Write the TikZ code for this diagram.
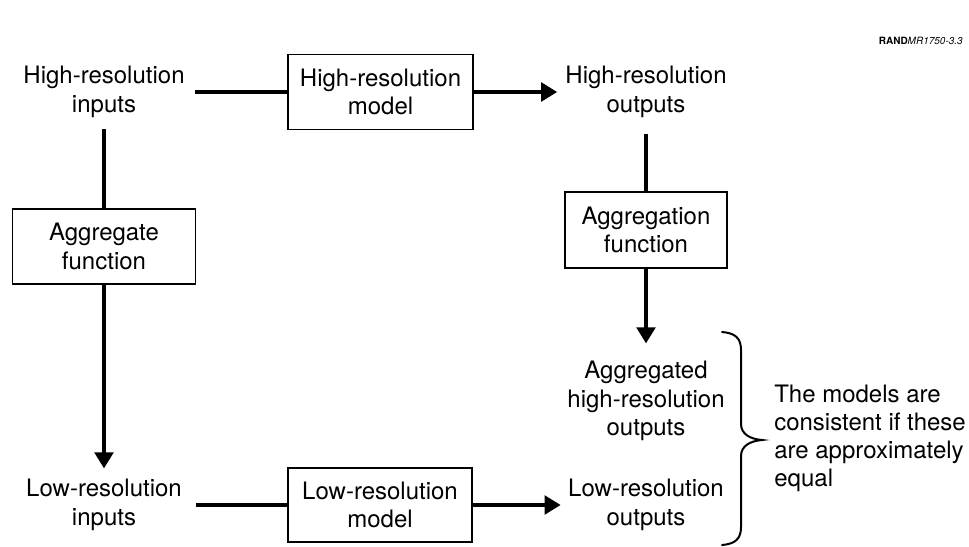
\documentclass[tikz,border=0pt]{standalone}
\usepackage{fontspec}
\setmainfont{TeX Gyre Heros}
\usetikzlibrary{arrows.meta}
\begin{document}
\begin{tikzpicture}[x=0.75pt,y=-0.75pt,
  lbl/.style={font=\fontsize{18pt}{21.5pt}\selectfont, align=center, inner sep=0pt},
  blk/.style={lbl, draw, line width=1.2pt},
  conn/.style={line width=2.5pt},
  arr/.style={conn, -{Triangle[length=12pt,width=14pt]}},
  bracket/.style={line width=1.5pt, line cap=round}]
\useasboundingbox (0,0) rectangle (969,546);

% series label
\node[anchor=east, inner sep=0pt, font=\fontsize{7.5pt}{9pt}\selectfont] (tag) at (963,41)
  {{\bfseries RAND}{\itshape MR1750-3.3}};

% top row: high resolution
\node[lbl] (hin) at (104,92) {High-resolution\\inputs};
\node[blk, minimum width=138.75pt, minimum height=56.25pt] (hmod) at (380.5,92) {High-resolution\\model};
\node[lbl] (hout) at (646,92) {High-resolution\\outputs};

% aggregation steps
\node[blk, minimum width=137.25pt, minimum height=56.25pt] (aggf) at (104,246.5) {Aggregate\\function};
\node[blk, minimum width=121.5pt, minimum height=57pt] (aggn) at (646,230) {Aggregation\\function};
\node[lbl] (aggout) at (646,401) {Aggregated\\high-resolution\\outputs};

% bottom row: low resolution
\node[lbl] (lin) at (104,505) {Low-resolution\\inputs};
\node[blk, minimum width=138pt, minimum height=55.5pt] (lmod) at (380,505) {Low-resolution\\model};
\node[lbl] (lout) at (646,505) {Low-resolution\\outputs};

% connectors
\draw[conn, shorten <=7.5pt] (hin.east) -- (hmod.west);
\draw[arr, shorten >=6pt] (hmod.east) -- (hout.west);
\draw[conn, shorten <=8pt] (hin.south) -- (aggf.north);
\draw[arr, shorten >=8pt] (aggf.south) -- (lin.north);
\draw[conn, shorten <=10.5pt] (lin.east) -- (lmod.west);
\draw[arr, shorten >=5.5pt] (lmod.east) -- (lout.west);
\draw[conn, shorten <=12pt] (hout.south) -- (aggn.north);
\draw[arr, shorten >=13pt] (aggn.south) -- (aggout.north);

% brace grouping the two sets of outputs
\draw[bracket] (722,332) .. controls (735,333) and (741,338) .. (741,350)
  -- (741,424) .. controls (741,434) and (750,439) .. (762,440)
  .. controls (750,441) and (741,446) .. (741,456)
  -- (741,527) .. controls (741,539) and (735,544) .. (722,545);

\node[lbl, align=left, anchor=west, font=\fontsize{18pt}{21pt}\selectfont] (note) at (774,438)
  {The models are\\consistent if these\\are approximately\\equal};
\end{tikzpicture}
\end{document}
